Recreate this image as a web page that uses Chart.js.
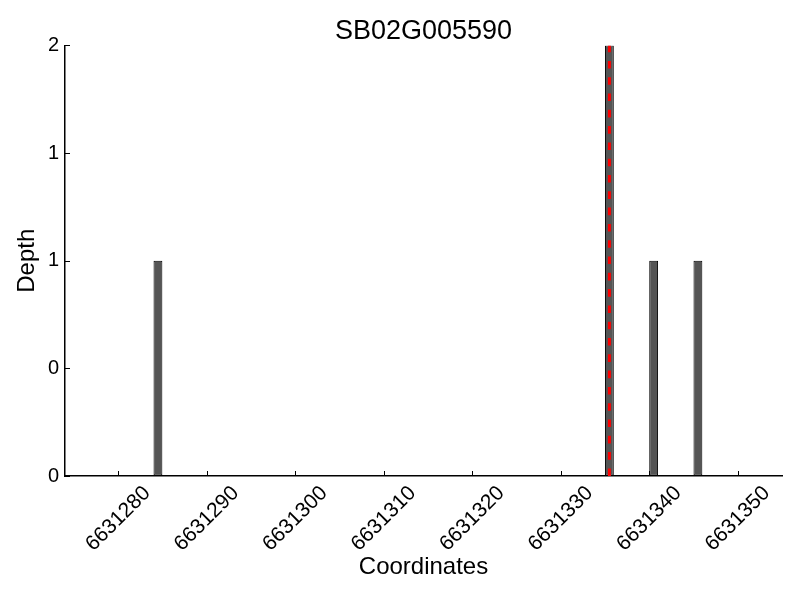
<!DOCTYPE html>
<html>
<head>
<meta charset="utf-8">
<script src="https://cdn.jsdelivr.net/npm/chart.js@4"></script>
<style>
  body { margin: 0; background: #fff; }
  canvas { display: block; }
</style>
</head>
<body>
<canvas id="grafico" width="800" height="600"></canvas>
<script>
// --- Datos ---
const posiciones = [6631284, 6631335, 6631340, 6631345];
const profundidad = [1, 2, 1, 1];
const marcador = 6631335.5;
const xTicks = [6631280, 6631290, 6631300, 6631310, 6631320, 6631330, 6631340, 6631350];
const yTickLabels = ["0", "0", "1", "1", "2"];

const fuente = "'Liberation Sans', Arial, sans-serif";

// marcas de los ejes hacia dentro
const ticksInternos = {
  id: "ticksInternos",
  afterDatasetsDraw(chart) {
    const { ctx, chartArea: a, scales: { x, y } } = chart;
    ctx.save();
    ctx.strokeStyle = "#000";
    ctx.lineWidth = 1;
    x.ticks.forEach(t => {
      const px = Math.round(x.getPixelForValue(t.value)) + 0.5;
      ctx.beginPath();
      ctx.moveTo(px, a.bottom);
      ctx.lineTo(px, a.bottom - 5);
      ctx.stroke();
    });
    y.ticks.forEach(t => {
      const py = Math.round(y.getPixelForValue(t.value)) + 0.5;
      ctx.beginPath();
      ctx.moveTo(a.left, py);
      ctx.lineTo(a.left + 5, py);
      ctx.stroke();
    });
    ctx.restore();
  }
};

new Chart(document.getElementById("grafico"), {
  type: "bar",
  data: {
    datasets: [
      {
        type: "line",
        data: [{ x: marcador, y: 0 }, { x: marcador, y: 2 }],
        borderColor: "#ff0000",
        borderWidth: 3,
        borderDash: [7.6, 8.7],
        pointRadius: 0,
        order: 0
      },
      {
        // cada barra cubre [pos, pos + 1]
        data: posiciones.map((p, i) => ({ x: p + 0.5, y: profundidad[i] })),
        backgroundColor: "#555555",
        borderColor: "#000000",
        borderWidth: 1,
        borderSkipped: false,
        barPercentage: 0.2,
        categoryPercentage: 1,
        order: 1
      }
    ]
  },
  options: {
    responsive: false,
    animation: false,
    layout: { padding: { left: 0, right: 18, top: 0, bottom: 0 } },
    plugins: {
      legend: { display: false },
      tooltip: { enabled: false },
      title: {
        display: true,
        text: "SB02G005590",
        color: "#000",
        fullSize: false,
        font: { family: fuente, size: 27, weight: "normal" },
        padding: { top: 15, bottom: -2 }
      }
    },
    scales: {
      x: {
        type: "linear",
        offset: false,
        min: 6631274,
        max: 6631355,
        afterFit: s => { s.height = 124; },
        afterBuildTicks: s => { s.ticks = xTicks.map(v => ({ value: v })); },
        grid: { display: true, offset: false, drawOnChartArea: false, drawTicks: false },
        border: { display: true, color: "#000", width: 1.5 },
        ticks: {
          autoSkip: false,
          maxRotation: 45,
          minRotation: 45,
          labelOffset: 29,
          padding: 5,
          color: "#000",
          font: { family: fuente, size: 21 },
          callback: v => String(v)
        },
        title: {
          display: true,
          text: "Coordinates",
          color: "#000",
          font: { family: fuente, size: 24 },
          padding: { top: 0, bottom: 18 }
        }
      },
      y: {
        min: 0,
        max: 2,
        afterFit: s => { s.width = 65; },
        grid: { display: true, drawOnChartArea: false, drawTicks: false },
        border: { display: true, color: "#000", width: 1.5 },
        ticks: {
          stepSize: 0.5,
          padding: 6,
          color: "#000",
          font: { family: fuente, size: 20 },
          callback: (v, i) => yTickLabels[i]
        },
        title: {
          display: true,
          text: "Depth",
          color: "#000",
          font: { family: fuente, size: 24 },
          padding: { top: 13, bottom: 0 }
        }
      }
    }
  },
  plugins: [ticksInternos]
});
</script>
</body>
</html>
